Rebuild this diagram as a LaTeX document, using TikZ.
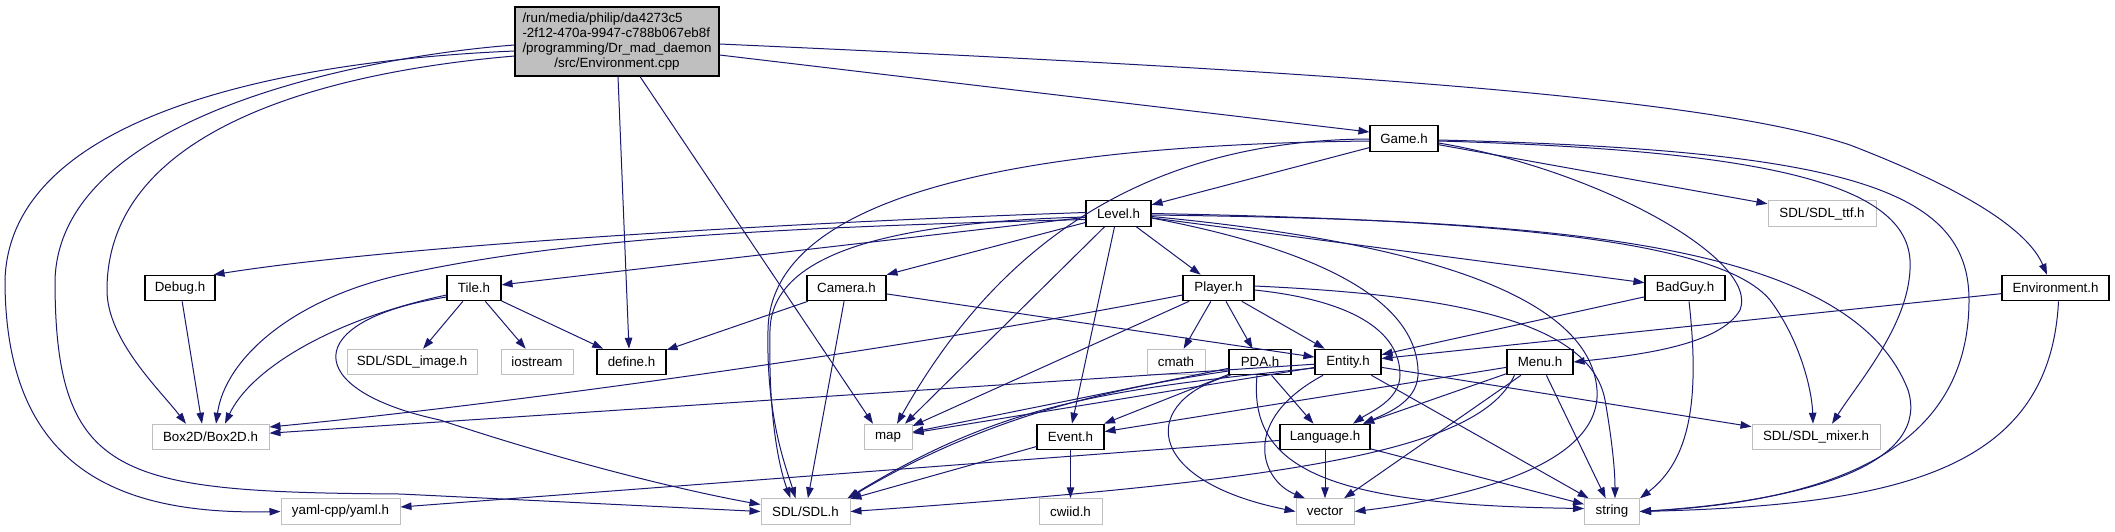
\documentclass[tikz,border=0pt]{standalone}
\usepackage{fontspec}
\newfontfamily\dgfont{Liberation Sans}
\usetikzlibrary{arrows.meta}
\definecolor{edgec}{HTML}{191970}
\definecolor{grey75c}{HTML}{BFBFBF}
\tikzset{
  doc/.style={draw=black, line width=1.1pt, fill=white, inner sep=0pt, minimum height=25.5pt, font=\dgfont\fontsize{13.33}{15}\selectfont},
  ext/.style={draw=grey75c, line width=1pt, fill=white, inner sep=0pt, minimum height=25.5pt, font=\dgfont\fontsize{13.33}{15}\selectfont},
  dep/.style={draw=edgec, line width=1pt, -{Triangle[length=11pt,width=7.5pt]}},
}
\begin{document}
\begin{tikzpicture}[x=1pt,y=-1pt]
\useasboundingbox (0,0) rectangle (2115,531);
\fill[white] (0,0) rectangle (2115,531);
% nodes
\node[doc, fill=grey75c, minimum width=204pt, minimum height=69pt] (m) at (617,41.5)
  {\begin{tabular}{@{}l@{}}/run/media/philip/da4273c5\\-2f12-470a-9947-c788b067eb8f\\/programming/Dr\_mad\_daemon\\\multicolumn{1}{@{}c@{}}{/src/Environment.cpp}\end{tabular}};
\node[doc, minimum width=68pt] (g) at (1404,138.5) {Game.h};
\node[doc, minimum width=65pt] (l) at (1118.5,213.5) {Level.h};
\node[ext, minimum width=108pt] (ttf) at (1822,213.5) {SDL/SDL\_ttf.h};
\node[doc, minimum width=70pt] (dbg) at (180,288) {Debug.h};
\node[doc, minimum width=54pt] (tile) at (474,288) {Tile.h};
\node[doc, minimum width=79pt] (cam) at (846.5,288) {Camera.h};
\node[doc, minimum width=71pt] (ply) at (1218.5,288) {Player.h};
\node[doc, minimum width=80pt] (bad) at (1685,288) {BadGuy.h};
\node[doc, minimum width=107pt] (env) at (2055.5,288) {Environment.h};
\node[ext, minimum width=130pt] (img) at (412,362) {SDL/SDL\_image.h};
\node[ext, minimum width=72pt] (ios) at (537,362) {iostream};
\node[doc, minimum width=69pt] (def) at (631.5,362) {define.h};
\node[ext, minimum width=58pt] (cmath) at (1176,362) {cmath};
\node[doc, minimum width=62pt] (pda) at (1260,362) {PDA.h};
\node[doc, minimum width=66pt] (ent) at (1348,362) {Entity.h};
\node[doc, minimum width=66pt] (menu) at (1540,362) {Menu.h};
\node[ext, minimum width=117pt] (box) at (210.5,437) {Box2D/Box2D.h};
\node[ext, minimum width=48pt] (map) at (888,437) {map};
\node[doc, minimum width=67pt] (evt) at (1070.5,437) {Event.h};
\node[doc, minimum width=90pt] (lang) at (1325,437) {Language.h};
\node[ext, minimum width=128pt] (mix) at (1816,437) {SDL/SDL\_mixer.h};
\node[ext, minimum width=119pt] (yaml) at (340.5,511.5) {yaml-cpp/yaml.h};
\node[ext, minimum width=89pt] (SDL) at (805.5,511.5) {SDL/SDL.h};
\node[ext, minimum width=63pt] (cwiid) at (1070.5,511.5) {cwiid.h};
\node[ext, minimum width=58pt] (vec) at (1325,511.5) {vector};
\node[ext, minimum width=55pt] (str) at (1612,511.5) {string};
% main
\draw[dep] ([yshift=-9.5pt]m.west) .. controls (300,60) and (10,110) .. (5,280) .. controls (5,470) and (120,515) .. (yaml.west);
\draw[dep] ([yshift=-3.5pt]m.west) .. controls (380,55) and (60,110) .. (55,280) .. controls (55,480) and (120,492) .. (400,494) -- (SDL.west);
\draw[dep] ([yshift=-14.5pt]m.west) .. controls (350,70) and (107,120) .. (107,290) .. controls (107,340) and (160,390) .. ([xshift=-24.5pt]box.north);
\draw[dep] ([xshift=1pt]m.south) -- ([xshift=-2.5pt]def.north);
\draw[dep] ([xshift=23pt]m.south) -- ([xshift=-15pt]map.north);
\draw[dep] ([yshift=-13.5pt]m.east) -- ([yshift=6.5pt]g.west);
\draw[dep] ([yshift=-2.5pt]m.east) .. controls (1300,70) and (1700,95) .. (1850,145) .. controls (1980,195) and (2030,235) .. ([xshift=-8.5pt]env.north);
% Game
\draw[dep] (g) -- (l);
\draw[dep] ([yshift=-2.5pt]g.west) .. controls (1000,145) and (770,200) .. (768,330) .. controls (766,420) and (787,470) .. ([xshift=-10pt]SDL.north);
\draw[dep] ([yshift=-0.5pt]g.west) .. controls (1150,140) and (1000,240) .. ([xshift=9pt]map.north);
\draw[dep] (g) -- (ttf);
\draw[dep] ([yshift=-4.5pt]g.east) .. controls (1600,170) and (1760,260) .. (1740,310) .. controls (1720,345) and (1640,355) .. (menu.east);
\draw[dep] ([yshift=-2.5pt]g.east) .. controls (1750,150) and (1905,180) .. (1910,260) .. controls (1913,320) and (1860,380) .. ([xshift=16pt]mix.north);
\draw[dep] ([yshift=-1.5pt]g.east) .. controls (1850,150) and (1969,190) .. (1969,300) .. controls (1969,440) and (1850,500) .. (str.east);
% Level
\draw[dep] ([yshift=1pt]l.west) .. controls (800,222) and (400,245) .. ([xshift=-2pt]dbg.north east);
\draw[dep] ([yshift=-6pt]l.west) .. controls (750,228) and (560,240) .. (400,275) .. controls (290,300) and (225,360) .. ([xshift=5.5pt]box.north);
\draw[dep] (l) -- (tile);
\draw[dep] ([yshift=-3.5pt]l.west) .. controls (900,222) and (772,250) .. (770,330) .. controls (768,420) and (780,470) .. ([xshift=-15pt]SDL.north);
\draw[dep] ([yshift=-9pt]l.west) -- (cam.north east);
\draw[dep] ([xshift=-14pt]l.south) -- ([xshift=17pt]map.north);
\draw[dep] ([xshift=-4pt]l.south) -- ([xshift=1.5pt]evt.north);
\draw[dep] (l) -- (ply);
\draw[dep] ([yshift=-4.5pt]l.east) .. controls (1320,250) and (1415,300) .. (1418,370) .. controls (1420,400) and (1390,412) .. ([xshift=38pt]lang.north);
\draw[dep] ([yshift=-3pt]l.east) .. controls (1400,240) and (1590,290) .. (1597,390) .. controls (1602,470) and (1450,500) .. (vec.east);
\draw[dep] (l) -- (bad);
\draw[dep] ([yshift=0pt]l.east) .. controls (1500,220) and (1720,240) .. (1770,300) .. controls (1800,340) and (1812,390) .. ([xshift=-3pt]mix.north);
\draw[dep] ([yshift=-1.5pt]l.east) .. controls (1550,220) and (1850,240) .. (1908,390) .. controls (1930,460) and (1820,500) .. (str.east);
% Debug, Tile, Camera
\draw[dep] (dbg) -- ([xshift=-8.5pt]box.north);
\draw[dep] (tile) -- (img);
\draw[dep] (tile) -- (ios);
\draw[dep] (tile) -- (def);
\draw[dep] ([yshift=-7pt]tile.west) .. controls (330,320) and (250,370) .. ([xshift=14.5pt]box.north);
\draw[dep] ([yshift=-9pt]tile.west) .. controls (300,320) and (300,390) .. (440,420) .. controls (560,460) and (680,490) .. ([yshift=7pt]SDL.west);
\draw[dep] (cam) -- (def);
\draw[dep] (cam) -- (ent);
\draw[dep] (cam) -- (SDL);
% Player
\draw[dep] ([yshift=-7pt]ply.west) .. controls (900,350) and (500,405) .. ([yshift=10pt]box.east);
\draw[dep] (ply) -- (map);
\draw[dep] (ply) -- (cmath);
\draw[dep] (ply) -- (pda);
\draw[dep] (ply) -- (ent);
\draw[dep] ([yshift=-2pt]ply.east) .. controls (1350,300) and (1400,330) .. (1400,375) .. controls (1400,400) and (1370,412) .. ([xshift=28pt]lang.north);
\draw[dep] ([yshift=2pt]ply.east) .. controls (1450,295) and (1590,320) .. (1605,400) .. controls (1612,440) and (1615,470) .. ([xshift=3pt]str.north);
% PDA
\draw[dep] (pda) -- (map);
\draw[dep] ([yshift=-9pt]pda.west) .. controls (1100,390) and (980,420) .. ([xshift=-2pt]SDL.north east);
\draw[dep] (pda) -- (evt);
\draw[dep] (pda) -- (lang);
\draw[dep] ([xshift=2pt]pda.south west) .. controls (1140,400) and (1140,480) .. (vec.west);
\draw[dep] ([xshift=-3pt]pda.south) .. controls (1248,470) and (1330,505) .. ([yshift=3pt]str.west);
% Entity
\draw[dep] (ent) -- (box);
\draw[dep] (ent) -- (map);
\draw[dep] ([yshift=-6pt]ent.west) .. controls (1100,390) and (1000,405) .. ([xshift=-3pt]SDL.north east);
\draw[dep] ([xshift=-25pt]ent.south) .. controls (1240,420) and (1260,480) .. ([xshift=-20pt]vec.north);
\draw[dep] (ent) -- (str);
\draw[dep] (ent) -- (mix);
% Event, Language, Menu
\draw[dep] (evt) -- (SDL);
\draw[dep] (evt) -- (cwiid);
\draw[dep] (lang) -- (yaml);
\draw[dep] (lang) -- (vec);
\draw[dep] (lang) -- (str);
\draw[dep] (menu) -- (evt);
\draw[dep] (menu) -- (lang);
\draw[dep] (menu) -- (vec);
\draw[dep] ([xshift=8pt]menu.south west) .. controls (1480,450) and (1300,480) .. (SDL.east);
\draw[dep] (menu) -- (str);
% BadGuy, Environment
\draw[dep] (bad) -- (ent);
\draw[dep] ([xshift=4pt]bad.south) .. controls (1700,400) and (1690,460) .. (str.north east);
\draw[dep] (env) -- (ent);
\draw[dep] ([xshift=3pt]env.south) .. controls (2050,470) and (1900,505) .. (str.east);
\end{tikzpicture}
\end{document}
